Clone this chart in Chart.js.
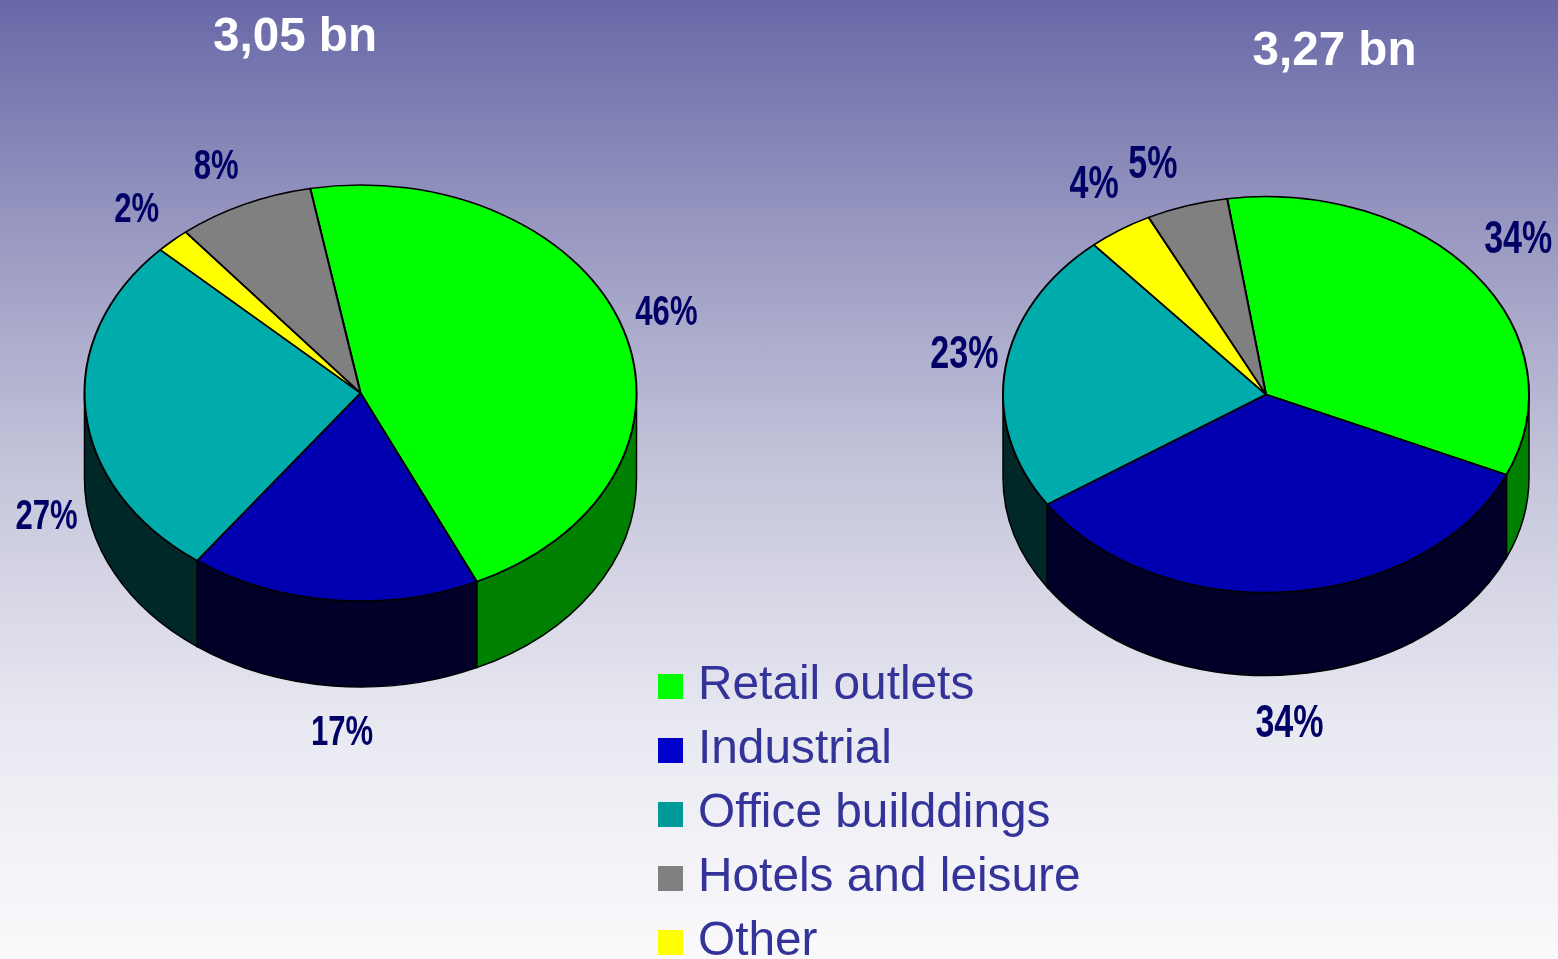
<!DOCTYPE html>
<html>
<head>
<meta charset="utf-8">
<script src="https://cdn.jsdelivr.net/npm/chart.js@4"></script>
<style>
html,body{margin:0;padding:0;width:1558px;height:959px;overflow:hidden;background:linear-gradient(180deg,#6868a8 0%,#9a9ac2 25%,#c6c6dc 50%,#e8e8f1 75%,#fafafc 100%);font-family:"Liberation Sans",Arial,sans-serif}
canvas{position:absolute;left:0;top:0}
.wrap{position:absolute;left:0;top:0;width:1558px;height:959px}
.title{position:absolute;color:#fff;font:bold 47.6px "Liberation Sans",Arial,sans-serif;line-height:48px;white-space:nowrap;transform:translateX(-50%)}
.leg{position:absolute;left:658px;color:#333399;font:47.8px "Liberation Sans",Arial,sans-serif;line-height:56px;white-space:nowrap;padding-left:40px}
.leg i{position:absolute;left:0;top:19px;width:25px;height:25px}
</style>
</head>
<body>
<div class="wrap" id="w1"><canvas id="pie1" width="1558" height="959"></canvas></div>
<div class="wrap" id="w2"><canvas id="pie2" width="1558" height="959"></canvas></div>
<div id="text"></div>
<script>
const categories = ["Retail outlets", "Industrial", "Office builddings", "Other", "Hotels and leisure"];
const legendCategories = ["Retail outlets", "Industrial", "Office builddings", "Hotels and leisure", "Other"];
const valuesLeft = [46, 17, 27, 2, 8];
const valuesRight = [34, 34, 23, 4, 5];
const titles = ["3,05 bn", "3,27 bn"];

const topColors = ["#00ff00", "#0000b0", "#00abab", "#ffff00", "#808080"];
const sideColors = ["#008000", "#000028", "#002828", "#808000", "#404040"];
const legendColors = {"Retail outlets":"#00ff00","Industrial":"#0000cc","Office builddings":"#009999","Hotels and leisure":"#808080","Other":"#ffff00"};

const leftLayout = {cx:360.5, cy:393, rx:276, ry:208, depth:86, rotation:-10.5, labelSize:42,
  nudge:[[43,-18],[9,131],[-39,104],[-36,-32],[-28,-39]]};
const rightLayout = {cx:1266, cy:394.5, rx:263, ry:198, depth:83, rotation:-8.5, labelSize:46,
  nudge:[[43,-36],[1,131],[-41,-15],[-26,-46],[-34,-42]]};

function pie3d(layout){
  const k = layout.ry / layout.rx;
  return {
    id:'pie3d',
    beforeDatasetsDraw(chart){
      const ctx = chart.ctx, arcs = chart.getDatasetMeta(0).data;
      ctx.save();
      ctx.lineWidth = 1.5; ctx.strokeStyle = '#000';
      arcs.forEach((arc,i)=>{
        const p = arc.getProps(['x','y','startAngle','endAngle','outerRadius'],true);
        const ry = p.outerRadius*k;
        for (const shift of [0, 2*Math.PI, -2*Math.PI]) {
          const a = Math.max(p.startAngle+shift, 0), b = Math.min(p.endAngle+shift, Math.PI);
          if (b <= a) continue;
          ctx.beginPath();
          ctx.ellipse(p.x,layout.cy,p.outerRadius,ry,0,a,b);
          ctx.ellipse(p.x,layout.cy+layout.depth,p.outerRadius,ry,0,b,a,true);
          ctx.closePath();
          ctx.fillStyle = sideColors[i];
          ctx.fill(); ctx.stroke();
        }
      });
      ctx.restore();
      ctx.save();
      ctx.translate(0,layout.cy); ctx.scale(1,k); ctx.translate(0,-layout.cy);
    },
    afterDatasetsDraw(chart){
      const ctx = chart.ctx, arcs = chart.getDatasetMeta(0).data, vals = chart.data.datasets[0].data;
      ctx.restore();
      ctx.save();
      ctx.fillStyle = '#000066';
      ctx.font = 'bold '+layout.labelSize+'px "Liberation Sans", Arial, sans-serif';
      ctx.textAlign = 'center'; ctx.textBaseline = 'middle';
      arcs.forEach((arc,i)=>{
        const p = arc.getProps(['x','startAngle','endAngle','outerRadius'],true);
        const m = (p.startAngle+p.endAngle)/2;
        const x = p.x + p.outerRadius*Math.cos(m) + layout.nudge[i][0];
        const y = layout.cy + p.outerRadius*k*Math.sin(m) + layout.nudge[i][1];
        ctx.save();
        ctx.translate(x,y); ctx.scale(0.74,1);
        ctx.fillText(vals[i]+'%',0,2);
        ctx.restore();
      });
      ctx.restore();
    }
  };
}

function makePie(id, values, layout){
  const side = layout.rx + 1;
  new Chart(document.getElementById(id), {
    type:'pie',
    data:{labels:categories, datasets:[{data:values, backgroundColor:topColors, borderColor:'#000', borderWidth:2, clip:false}]},
    options:{
      responsive:false, animation:false, rotation:layout.rotation,
      layout:{padding:{left:layout.cx-side, right:1558-layout.cx-side, top:layout.cy-side, bottom:959-layout.cy-side}},
      plugins:{legend:{display:false}, tooltip:{enabled:false}, title:{display:false}}
    },
    plugins:[pie3d(layout)]
  });
}
makePie('pie1', valuesLeft, leftLayout);
makePie('pie2', valuesRight, rightLayout);

const text = document.getElementById('text');
[[295,11],[1334.5,25]].forEach((pos,i)=>{
  const d = document.createElement('div'); d.className='title';
  d.style.left = pos[0]+'px'; d.style.top = pos[1]+'px'; d.textContent = titles[i];
  text.appendChild(d);
});
legendCategories.forEach((c,i)=>{
  const d = document.createElement('div'); d.className='leg';
  d.style.top = (655+64*i)+'px';
  d.textContent = c;
  const s = document.createElement('i'); s.style.background = legendColors[c];
  d.appendChild(s); text.appendChild(d);
});
</script>
</body>
</html>
